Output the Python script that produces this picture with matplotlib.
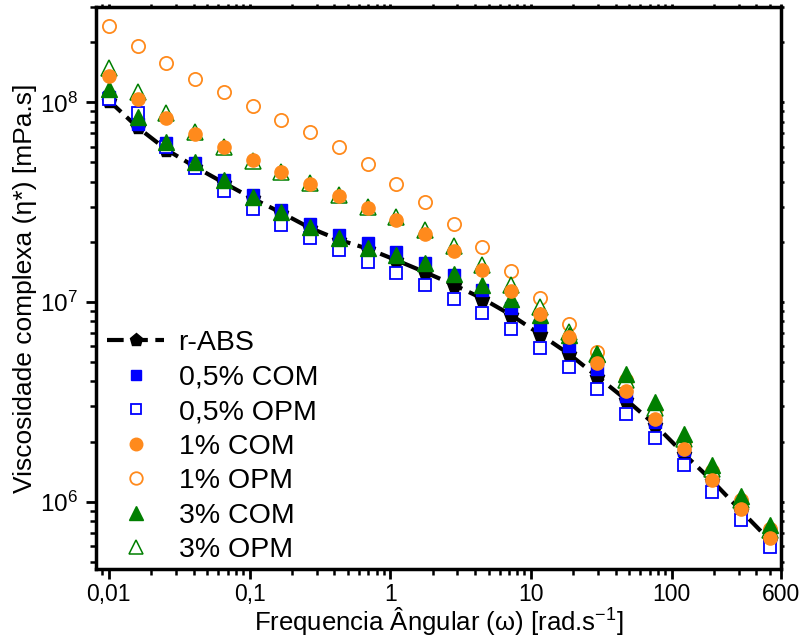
import matplotlib
matplotlib.use('Agg')
import matplotlib.pyplot as plt
from matplotlib.ticker import FixedLocator, NullFormatter

plt.rcParams['font.family'] = ['Liberation Sans', 'DejaVu Sans']
plt.rcParams['mathtext.fontset'] = 'custom'
plt.rcParams['mathtext.rm'] = 'Liberation Sans'
plt.rcParams['mathtext.it'] = 'Liberation Sans:italic'

# frequencia angular (rad/s)
freq = [0.01, 0.016, 0.0256, 0.041, 0.0657, 0.105, 0.168, 0.269, 0.431, 0.69,
        1.104, 1.767, 2.83, 4.53, 7.25, 11.6, 18.6, 29.7, 47.6, 76.2,
        122, 195, 312, 500]

# viscosidade complexa (mPa.s)
r_abs = [1.02e8, 7.5e7, 5.8e7, 4.75e7, 3.95e7, 3.3e7, 2.8e7, 2.35e7, 2.05e7, 1.85e7,
         1.62e7, 1.41e7, 1.22e7, 1.04e7, 8.6e6, 6.9e6, 5.5e6, 4.23e6, 3.24e6, 2.43e6,
         1.74e6, 1.27e6, 9.0e5, 6.4e5]
com_05 = [1.06e8, 7.76e7, 6.26e7, 4.98e7, 4.07e7, 3.43e7, 2.88e7, 2.47e7, 2.16e7, 1.97e7,
          1.77e7, 1.56e7, 1.37e7, 1.15e7, 9.3e6, 7.7e6, 6.0e6, 4.6e6, 3.37e6, 2.52e6,
          1.82e6, 1.31e6, 9.4e5, 6.7e5]
opm_05 = [1.04e8, 8.8e7, 6.0e7, 4.69e7, 3.6e7, 2.93e7, 2.44e7, 2.09e7, 1.82e7, 1.59e7,
          1.40e7, 1.22e7, 1.04e7, 8.85e6, 7.3e6, 5.9e6, 4.7e6, 3.65e6, 2.76e6, 2.08e6,
          1.53e6, 1.12e6, 8.1e5, 5.9e5]
com_1 = [1.35e8, 1.035e8, 8.35e7, 6.97e7, 5.96e7, 5.13e7, 4.47e7, 3.9e7, 3.4e7, 2.96e7,
         2.57e7, 2.18e7, 1.8e7, 1.45e7, 1.135e7, 8.75e6, 6.65e6, 4.94e6, 3.6e6, 2.59e6,
         1.83e6, 1.29e6, 9.2e5, 6.6e5]
opm_1 = [2.4e8, 1.91e8, 1.57e8, 1.31e8, 1.13e8, 9.55e7, 8.2e7, 7.08e7, 5.96e7, 4.9e7,
         3.9e7, 3.15e7, 2.45e7, 1.88e7, 1.43e7, 1.05e7, 7.76e6, 5.6e6, 4.05e6, 2.88e6,
         2.0e6, 1.43e6, 1.02e6, 7.3e5]
com_3 = [1.17e8, 8.45e7, 6.33e7, 5.0e7, 4.07e7, 3.37e7, 2.81e7, 2.38e7, 2.08e7, 1.86e7,
         1.72e7, 1.56e7, 1.38e7, 1.22e7, 1.03e7, 8.6e6, 6.8e6, 5.5e6, 4.37e6, 3.15e6,
         2.19e6, 1.52e6, 1.07e6, 7.6e5]
opm_3 = [1.49e8, 1.12e8, 8.8e7, 7.1e7, 5.98e7, 5.1e7, 4.5e7, 3.95e7, 3.45e7, 3.0e7,
         2.66e7, 2.29e7, 1.9e7, 1.53e7, 1.22e7, 9.4e6, 7.1e6, 5.5e6, 4.07e6, 2.95e6,
         2.05e6, 1.45e6, 1.02e6, 7.2e5]

azul = '#0000FF'
laranja = '#FF8A1C'
verde = '#007F00'

fig = plt.figure(figsize=(8.02, 6.39), dpi=100)
ax = fig.add_axes([0.1197, 0.1095, 0.8541, 0.8795])

ax.plot(freq, r_abs, color='black', lw=3, ls=(0, (4, 1.8)), marker='p', ms=10,
        label='r-ABS', zorder=2)
ax.plot(freq, com_05, ls='none', marker='s', ms=8, color=azul, label='0,5% COM', zorder=3)
ax.plot(freq, opm_05, ls='none', marker='s', ms=8, mfc='white', mec=azul, mew=1.3,
        label='0,5% OPM', zorder=4)
ax.plot(freq, com_1, ls='none', marker='o', ms=9.5, color=laranja, label='1% COM', zorder=8)
ax.plot(freq, opm_1, ls='none', marker='o', ms=9.5, mfc='white', mec=laranja, mew=1.3,
        label='1% OPM', zorder=5)
ax.plot(freq, com_3, ls='none', marker='^', ms=11, color=verde, label='3% COM', zorder=7)
ax.plot(freq, opm_3, ls='none', marker='^', ms=11, mfc='white', mec=verde, mew=1.1,
        label='3% OPM', zorder=6)

ax.set_xscale('log')
ax.set_yscale('log')
ax.set_xlim(0.0081, 600)
ax.set_ylim(4.6e5, 3.0e8)

ax.xaxis.set_major_locator(FixedLocator([0.01, 0.1, 1, 10, 100, 600]))
ax.set_xticklabels(['0,01', '0,1', '1', '10', '100', '600'])
minx = [0.009] + [m * 10.0 ** e for e in range(-2, 2) for m in range(2, 10)] + [200, 300, 400, 500]
ax.xaxis.set_minor_locator(FixedLocator(minx))
ax.xaxis.set_minor_formatter(NullFormatter())
ax.set_yticks([1e6, 1e7, 1e8])
ax.set_yticklabels([r'$10^{6}$', r'$10^{7}$', r'$10^{8}$'])
miny = [m * 10.0 ** e for e in range(5, 9) for m in range(2, 10)]
ax.yaxis.set_minor_locator(FixedLocator(miny))
ax.yaxis.set_minor_formatter(NullFormatter())

ax.tick_params(which='major', direction='out', length=7, width=2, labelsize=16.5, pad=3)
ax.tick_params(axis='y', which='major', labelsize=17.5, pad=6)
ax.tick_params(which='minor', direction='out', length=4, width=1.8)
ax.tick_params(which='both', top=True, right=True)
# ticks no topo/direita bem curtos
for t in ax.xaxis.get_major_ticks() + ax.xaxis.get_minor_ticks():
    t.tick2line.set_markersize(2)
for t in ax.yaxis.get_major_ticks() + ax.yaxis.get_minor_ticks():
    t.tick2line.set_markersize(2)

for s in ax.spines.values():
    s.set_linewidth(2.5)

ax.set_xlabel('Frequencia Ângular (ω) [rad.s$^{-1}$]', fontsize=18.5, labelpad=-1)
ax.set_ylabel('Viscosidade complexa (η*) [mPa.s]', fontsize=19, labelpad=2)

leg = ax.legend(loc='lower left', frameon=False, fontsize=20.5, labelspacing=0.3,
                handlelength=2.0, handletextpad=0.5, borderaxespad=0.0,
                bbox_to_anchor=(0.0, -0.01), markerscale=0.95)

fig.savefig('out.png', dpi=100)
